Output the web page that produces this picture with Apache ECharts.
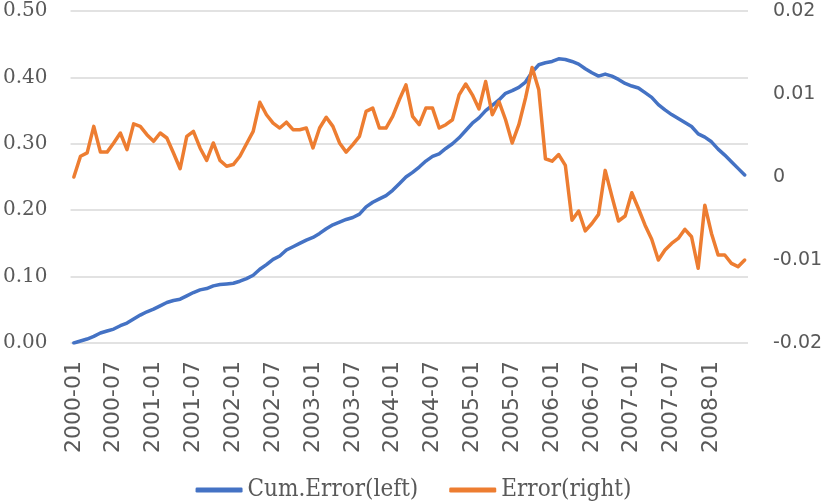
<!DOCTYPE html>
<html>
<head>
<meta charset="utf-8">
<script src="https://cdn.jsdelivr.net/npm/echarts@6/dist/echarts.min.js"></script>
<style>
html,body{margin:0;padding:0;background:#fff;}
#chart{width:827px;height:502px;}
</style>
</head>
<body>
<div id="chart"></div>
<script>
// Months 2000-01 .. 2008-06
const startYear = 2000;
const monthCount = 102;
const months = [];
for (let k = 0; k < monthCount; k++) {
  const y = startYear + Math.floor(k / 12);
  const m = (k % 12) + 1;
  months.push(y + '-' + (m < 10 ? '0' + m : '' + m));
}

const seriesNames = ['Cum.Error(left)', 'Error(right)'];

// Cumulative error (left axis)
const cumError = [
  0.000, 0.003, 0.006, 0.010, 0.015, 0.018, 0.021, 0.026, 0.030, 0.036,
  0.042, 0.047, 0.051, 0.056, 0.061, 0.064, 0.066, 0.071, 0.076, 0.080,
  0.082, 0.086, 0.088, 0.089, 0.090, 0.093, 0.097, 0.102, 0.111, 0.118,
  0.126, 0.131, 0.140, 0.145, 0.150, 0.155, 0.159, 0.165, 0.172, 0.178,
  0.182, 0.186, 0.189, 0.194, 0.205, 0.212, 0.217, 0.222, 0.230, 0.240,
  0.250, 0.257, 0.265, 0.274, 0.281, 0.285, 0.293, 0.300, 0.309, 0.320,
  0.331, 0.339, 0.350, 0.358, 0.366, 0.376, 0.380, 0.385, 0.393, 0.408,
  0.419, 0.422, 0.424, 0.428, 0.427, 0.424, 0.420, 0.413, 0.407, 0.402,
  0.405, 0.402, 0.397, 0.391, 0.387, 0.384, 0.377, 0.370, 0.359, 0.351,
  0.344, 0.338, 0.332, 0.326, 0.315, 0.310, 0.303, 0.292, 0.283, 0.273,
  0.263, 0.253
];

// Monthly error (right axis)
const error = [
  0.0000, 0.0025, 0.0029, 0.0061, 0.0030, 0.0030, 0.0041, 0.0053, 0.0033, 0.0064,
  0.0061, 0.0051, 0.0043, 0.0053, 0.0047, 0.0029, 0.0010, 0.0049, 0.0055, 0.0035,
  0.0020, 0.0041, 0.0020, 0.0013, 0.0015, 0.0025, 0.0040, 0.0055, 0.0090, 0.0075,
  0.0065, 0.0059, 0.0066, 0.0057, 0.0057, 0.0059, 0.0035, 0.0059, 0.0072, 0.0061,
  0.0041, 0.0030, 0.0039, 0.0049, 0.0079, 0.0083, 0.0059, 0.0059, 0.0073, 0.0093,
  0.0111, 0.0073, 0.0063, 0.0083, 0.0083, 0.0059, 0.0063, 0.0069, 0.0099, 0.0112,
  0.0099, 0.0082, 0.0115, 0.0075, 0.0091, 0.0069, 0.0041, 0.0063, 0.0095, 0.0132,
  0.0105, 0.0022, 0.0019, 0.0027, 0.0014, -0.0052, -0.0041, -0.0065, -0.0056, -0.0045,
  0.0008, -0.0023, -0.0053, -0.0047, -0.0019, -0.0038, -0.0058, -0.0075, -0.0100, -0.0088,
  -0.0080, -0.0074, -0.0063, -0.0072, -0.0110, -0.0034, -0.0068, -0.0094, -0.0094, -0.0104,
  -0.0108, -0.0100
];

const leftTicks = { min: 0, max: 0.5, interval: 0.1 };
const rightTicks = { min: -0.02, max: 0.02, interval: 0.01 };

const chart = echarts.init(document.getElementById('chart'), null, { renderer: 'canvas' });
const txt = '#595959';
chart.setOption({
  animation: false,
  backgroundColor: '#ffffff',
  grid: { left: 68, right: 79, top: 11, bottom: 159, containLabel: false },
  legend: {
    bottom: -5,
    left: 'center',
    itemWidth: 47,
    itemHeight: 5,
    itemGap: 31,
    icon: 'roundRect',
    textStyle: { fontFamily: '"DejaVu Serif Condensed", "DejaVu Serif", serif', fontSize: 24, color: txt },
    data: seriesNames
  },
  xAxis: {
    type: 'category',
    data: months,
    boundaryGap: true,
    axisLine: { show: false },
    axisTick: { show: false },
    axisLabel: {
      interval: 5,
      rotate: 90,
      margin: 18,
      color: txt,
      fontFamily: '"DejaVu Sans", sans-serif',
      fontSize: 22
    }
  },
  yAxis: [
    {
      type: 'value',
      position: 'left',
      min: leftTicks.min, max: leftTicks.max, interval: leftTicks.interval,
      axisLine: { show: false }, axisTick: { show: false },
      splitLine: { show: true, lineStyle: { color: '#d9d9d9', width: 1.5 } },
      axisLabel: {
        margin: 23, color: txt, fontFamily: '"DejaVu Serif", serif', fontSize: 20,
        formatter: v => v.toFixed(2)
      }
    },
    {
      type: 'value',
      position: 'right',
      min: rightTicks.min, max: rightTicks.max, interval: rightTicks.interval,
      axisLine: { show: false }, axisTick: { show: false },
      splitLine: { show: false },
      axisLabel: {
        margin: 25, color: txt, fontFamily: '"DejaVu Sans", sans-serif', fontSize: 19,
        formatter: v => {
          const r = Math.round(v * 100) / 100;
          return r === 0 ? '0' : r.toFixed(2);
        }
      }
    }
  ],
  series: [
    {
      name: seriesNames[0], type: 'line', yAxisIndex: 0, data: cumError,
      showSymbol: false, symbol: 'none',
      itemStyle: { color: '#4472C4' },
      lineStyle: { color: '#4472C4', width: 3.5, cap: 'round', join: 'round' }
    },
    {
      name: seriesNames[1], type: 'line', yAxisIndex: 1, data: error,
      showSymbol: false, symbol: 'none',
      itemStyle: { color: '#ED7D31' },
      lineStyle: { color: '#ED7D31', width: 3.5, cap: 'round', join: 'round' }
    }
  ]
});
</script>
</body>
</html>
